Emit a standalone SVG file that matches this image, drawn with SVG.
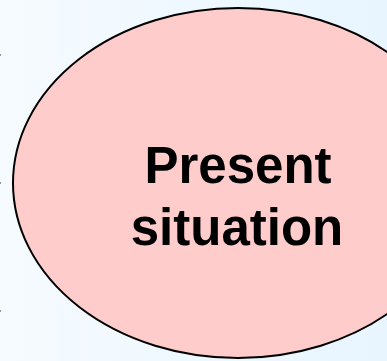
<svg xmlns="http://www.w3.org/2000/svg" width="387" height="361" viewBox="0 0 387 361">
<defs>
<linearGradient id="bg" x1="0" y1="0" x2="1" y2="0">
<stop offset="0" stop-color="#F6FBFF"/>
<stop offset="1" stop-color="#E8F5FF"/>
</linearGradient>
<style>
.tick{fill:#9A9A9A}
.lbl{font-family:"Liberation Sans",Arial,sans-serif;font-weight:bold;font-size:51px;fill:#000;text-anchor:middle}
</style>
</defs>
<rect x="0" y="0" width="387" height="361" fill="url(#bg)"/>
<rect class="tick" x="0" y="54" width="1" height="2"/>
<rect class="tick" x="0" y="182" width="1" height="2"/>
<rect class="tick" x="0" y="310" width="1" height="2"/>
<g id="present-situation">
<ellipse cx="238" cy="183" rx="225" ry="175" fill="#FFCCCC" stroke="#000" stroke-width="2"/>
<text class="lbl" x="238" y="183">Present</text>
<text class="lbl" x="237" y="245">situation</text>
</g>
</svg>
